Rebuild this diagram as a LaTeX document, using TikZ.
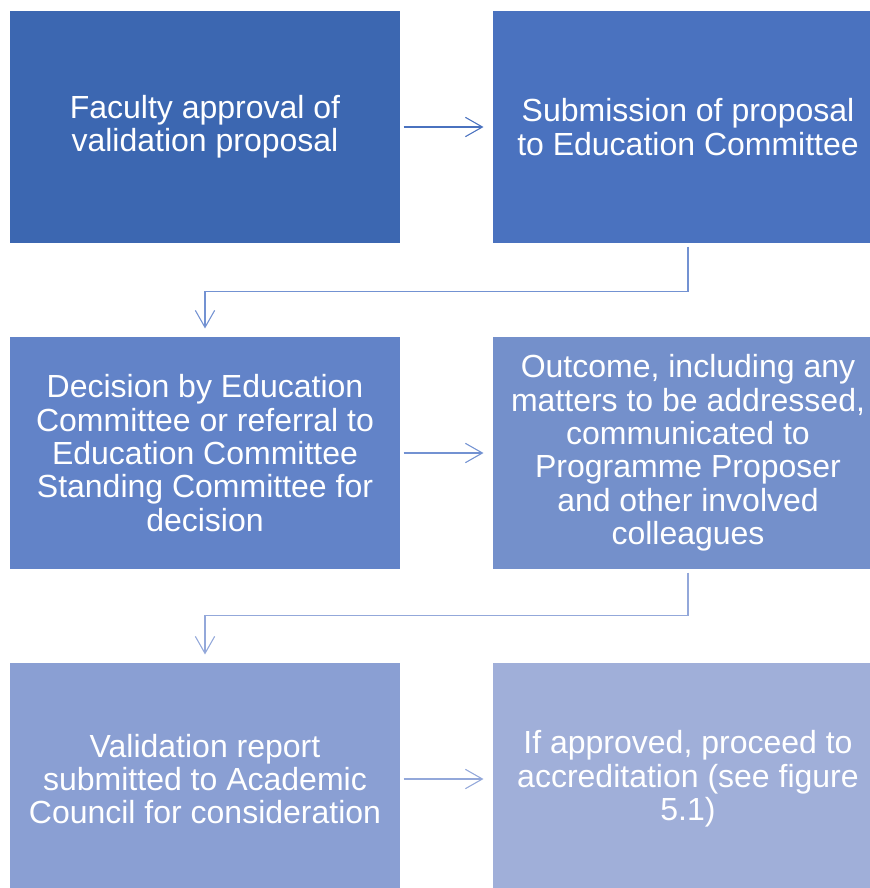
\documentclass[tikz,border=0pt]{standalone}
\usepackage{fontspec}
\setmainfont{Liberation Sans}
\usetikzlibrary{arrows.meta,positioning}
\definecolor{boxA}{HTML}{3C67B1}
\definecolor{boxB}{HTML}{4A72BF}
\definecolor{boxC}{HTML}{6283C8}
\definecolor{boxD}{HTML}{7490CB}
\definecolor{boxE}{HTML}{8A9FD3}
\definecolor{boxF}{HTML}{A0AFD9}
\definecolor{lineA}{HTML}{4A72BF}
\definecolor{lineB}{HTML}{7392D2}
\definecolor{lineC}{HTML}{93A8DA}
\begin{document}
\begin{tikzpicture}[x=0.75pt,y=-0.75pt,->,>={Straight Barb[length=12.75pt,width=14.5pt]},
      line width=0.8pt,
      stage/.style={rectangle,minimum width=292.5pt,minimum height=174pt,
        inner sep=0pt,align=center,text=white,
        font=\fontsize{24}{25}\selectfont},
      side/.style={shorten <=2.25pt,shorten >=6.75pt},
      drop/.style={shorten <=2.25pt,shorten >=6pt}]
 \useasboundingbox (0,0) rectangle (870,888);
 \clip (0,0) rectangle (870,888);
 \node[stage, fill=boxA] (fac) at (205,127) {Faculty approval of\\validation proposal};
 \node[stage, fill=boxB, node distance=362.25pt] (sub) [right of=fac] {Submission of proposal\\to Education Committee};
 \node[stage, fill=boxC, node distance=244.5pt] (dec) [below of=fac] {Decision by Education\\Committee or referral to\\Education Committee\\Standing Committee for\\decision};
 \node[stage, fill=boxD, node distance=362.25pt] (out) [right of=dec] {Outcome, including any\\matters to be addressed,\\communicated to\\Programme Proposer\\and other involved\\colleagues};
 \node[stage, fill=boxE, node distance=244.5pt] (val) [below of=dec] {Validation report\\submitted to Academic\\Council for consideration};
 \node[stage, fill=boxF, node distance=362.25pt] (acc) [right of=val] {If approved, proceed to\\accreditation (see figure\\5.1)};

 \draw[side, lineA] (fac) -- (sub);
 \draw[drop, lineB] (sub.south) -- ++(0,48) -| (dec.north);
 \draw[side, lineB] (dec) -- (out);
 \draw[drop, lineC] (out.south) -- ++(0,46) -| (val.north);
 \draw[side, lineC] (val) -- (acc);
\end{tikzpicture}
\end{document}
